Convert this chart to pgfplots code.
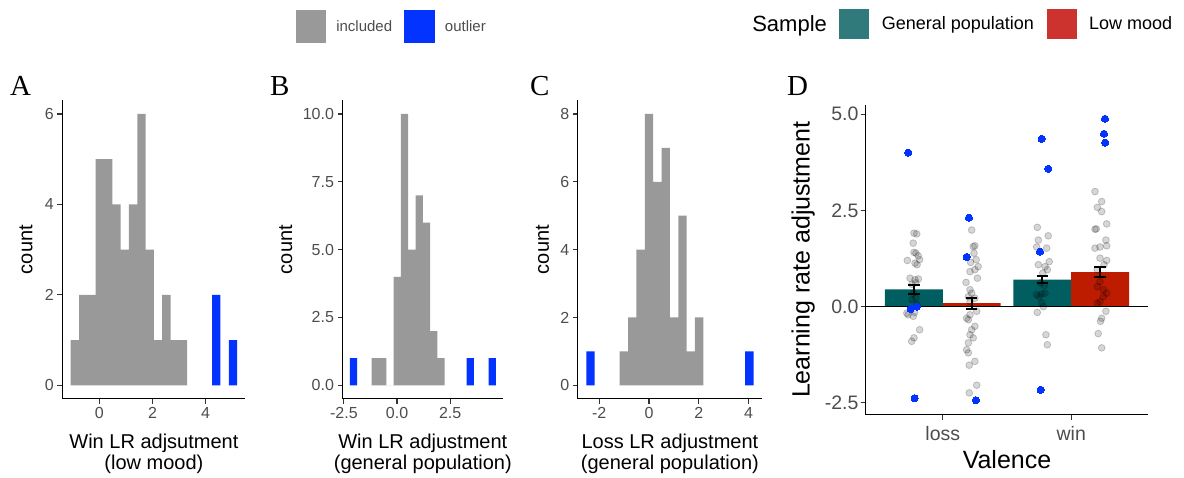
\documentclass[border=0pt]{standalone}
\usepackage{fontspec}
\setmainfont{Liberation Sans}
\newfontfamily\letterfont{Liberation Serif}
\usepackage{pgfplots}
\pgfplotsset{compat=1.18}

\definecolor{histgray}{RGB}{153,153,153}
\definecolor{outblue}{RGB}{3,51,255}
\definecolor{barteal}{RGB}{0,94,96}
\definecolor{barred}{RGB}{190,28,0}
\definecolor{legteal}{RGB}{48,122,124}
\definecolor{legred}{RGB}{204,50,46}
\definecolor{tickgray}{RGB}{77,77,77}
\definecolor{tickline}{RGB}{51,51,51}

\pgfplotsset{
  gg/.style={
    scale only axis,
    axis lines=left,
    axis line style={-, black, line width=1.1pt},
    tick align=outside,
    major tick length=5pt,
    major tick style={tickline, line width=1.1pt},
    tick label style={text=tickgray},
    label style={text=black},
    /pgf/number format/assume math mode=true,
    minor tick num=0,
  },
  ggsmall/.style={gg,
    height=298.5pt,
    tick label style={font=\fontsize{16}{16}\selectfont},
    xlabel style={font=\fontsize{20}{21}\selectfont, align=center, at={(axis description cs:0.5,-0.1159)}, anchor=north, inner sep=0pt},
    ylabel style={font=\fontsize{20}{20}\selectfont, anchor=center},
  },
  hist/.style={const plot, draw=none},
}

\begin{document}
\begin{tikzpicture}
\useasboundingbox (0pt,0pt) rectangle (1184pt,478pt);

% ---------------- Panel A ----------------
\begin{axis}[ggsmall, at={(62.4pt,79.1pt)}, anchor=south west,
  width=183.0pt,
  xmin=-1.391, xmax=5.495, ymin=-0.3, ymax=6.3,
  xtick={0,2,4}, xticklabels={0,2,4},
  ytick={0,2,4,6}, yticklabels={0,2,4,6},
  xlabel={Win LR adjsutment\\(low mood)},
  ylabel={count},
  ylabel style={at={(axis description cs:-0.199,0.5)}},
  legend style={at={(axis description cs:1.2751,1.2469)}, anchor=west,
    draw=none, fill=none, inner sep=0pt, outer sep=0pt, legend columns=-1,
    nodes={inner sep=0pt, text=tickgray, font=\fontsize{15}{15}\selectfont},
    /tikz/every odd column/.append style={column sep=10pt},
    /tikz/every even column/.append style={column sep=12.3pt}},
]
\addplot[hist, fill=histgray,
  legend image code/.code={\fill[histgray] (0pt,-16.5pt) rectangle (30.5pt,16.5pt);}]
  coordinates {(-1.078,0) (-1.078,1) (-0.765,2) (-0.452,2) (-0.139,5) (0.174,5) (0.487,4) (0.800,3) (1.113,4) (1.426,6) (1.739,3) (2.052,1) (2.365,2) (2.678,1) (2.991,1) (3.304,1) (3.304,0)};
\addlegendentry{included}
\addplot[hist, fill=outblue,
  legend image code/.code={\fill[outblue] (0pt,-16.5pt) rectangle (30.5pt,16.5pt);}]
  coordinates {(4.243,0) (4.243,2) (4.556,2) (4.556,0)};
\addlegendentry{outlier}
\addplot[hist, fill=outblue, forget plot]
  coordinates {(4.869,0) (4.869,1) (5.182,1) (5.182,0)};
\end{axis}

% ---------------- Panel B ----------------
\begin{axis}[ggsmall, at={(342.5pt,79.1pt)}, anchor=south west,
  width=160.6pt,
  xmin=-2.564, xmax=4.986, ymin=-0.5, ymax=10.5,
  xtick={-2.5,0,2.5}, xticklabels={-2.5,0.0,2.5},
  ytick={0,2.5,5,7.5,10}, yticklabels={0.0,2.5,5.0,7.5,10.0},
  xlabel={Win LR adjustment\\(general population)},
  ylabel={count},
  ylabel style={at={(axis description cs:-0.354,0.5)}},
]
\addplot[hist, fill=histgray]
  coordinates {(-1.191,0) (-1.191,1) (-0.848,1) (-0.505,0) (-0.162,4) (0.181,10) (0.525,5) (0.868,7) (1.211,6) (1.554,2) (1.897,1) (2.241,1) (2.241,0)};
\addplot[hist, fill=outblue]
  coordinates {(-2.221,0) (-2.221,1) (-1.877,1) (-1.877,0)};
\addplot[hist, fill=outblue]
  coordinates {(3.270,0) (3.270,1) (3.613,1) (3.613,0)};
\addplot[hist, fill=outblue]
  coordinates {(4.300,0) (4.300,1) (4.643,1) (4.643,0)};
\end{axis}

% ---------------- Panel C ----------------
\begin{axis}[ggsmall, at={(577.9pt,79.1pt)}, anchor=south west,
  width=184.0pt,
  xmin=-2.856, xmax=4.538, ymin=-0.4, ymax=8.4,
  xtick={-2,0,2,4}, xticklabels={-2,0,2,4},
  ytick={0,2,4,6,8}, yticklabels={0,2,4,6,8},
  xlabel={Loss LR adjustment\\(general population)},
  ylabel={count},
  ylabel style={at={(axis description cs:-0.192,0.5)}},
]
\addplot[hist, fill=histgray]
  coordinates {(-1.176,0) (-1.176,1) (-0.840,2) (-0.504,4) (-0.168,8) (0.168,6) (0.505,7) (0.841,2) (1.177,5) (1.513,1) (1.849,2) (2.185,2) (2.185,0)};
\addplot[hist, fill=outblue]
  coordinates {(-2.520,0) (-2.520,1) (-2.184,1) (-2.184,0)};
\addplot[hist, fill=outblue]
  coordinates {(3.866,0) (3.866,1) (4.202,1) (4.202,0)};
\end{axis}

% ---------------- Panel D ----------------
\begin{axis}[gg, at={(865.7pt,63.3pt)}, anchor=south west,
  width=282.6pt, height=310pt,
  xmin=0.4, xmax=2.6, ymin=-2.806, ymax=5.246,
  xtick={1,2}, xticklabels={loss,win},
  ytick={-2.5,0,2.5,5}, yticklabels={-2.5,0.0,2.5,5.0},
  tick label style={font=\fontsize{19.5}{19.5}\selectfont},
  yticklabel style={inner xsep=2pt},
  xticklabel style={yshift=-3pt},
  xlabel={Valence}, ylabel={Learning rate adjustment},
  xlabel style={font=\fontsize{25}{25}\selectfont, at={(axis description cs:0.5,-0.113)}, anchor=north, inner sep=0pt},
  ylabel style={font=\fontsize{25}{25}\selectfont, at={(axis description cs:-0.221,0.5)}, anchor=center},
  legend style={at={(axis description cs:-0.4455,1.2603)}, anchor=west,
    draw=none, fill=none, inner sep=0pt, outer sep=0pt, legend columns=-1,
    nodes={inner sep=0pt, text=black, font=\fontsize{18}{18}\selectfont},
    /tikz/every odd column/.append style={column sep=12.5pt},
    /tikz/every even column/.append style={column sep=12.5pt}},
]
\addlegendimage{empty legend}
\addlegendentry{\fontsize{22}{22}\selectfont Sample}
\addplot[ybar, bar width=0.45, bar shift=0pt, fill=barteal, draw=none,
  legend image code/.code={\fill[legteal] (0pt,-15pt) rectangle (30pt,15pt);}]
  coordinates {(0.775,0.45) (1.775,0.70)};
\addlegendentry{General population}
\addplot[ybar, bar width=0.45, bar shift=0pt, fill=barred, draw=none,
  legend image code/.code={\fill[legred] (0pt,-15pt) rectangle (30pt,15pt);}]
  coordinates {(1.225,0.09) (2.225,0.90)};
\addlegendentry{Low mood}
\addplot[forget plot, black, line width=1.1pt] coordinates {(0.4,0) (2.6,0)};
% included participants (jittered)
\addplot[forget plot, only marks, mark=*, mark size=3.4pt,
  mark options={fill=black, fill opacity=0.16, draw=black, draw opacity=0.2, line width=0.8pt}]
  coordinates {
  (0.776,1.91) (0.797,1.89) (0.770,1.65) (0.776,1.41) (0.791,1.39) (0.809,1.32) (0.724,1.20) (0.784,1.13) (0.800,1.09) (0.820,1.22) (0.745,0.74) (0.784,0.70) (0.810,0.72) (0.790,0.62) (0.760,0.58) (0.770,0.35) (0.790,0.22) (0.760,0.18) (0.800,0.05) (0.720,-0.17) (0.730,-0.21) (0.780,-0.15) (0.770,-0.25) (0.820,-0.60) (0.776,-0.81) (0.758,-0.90)
  (1.225,1.99) (1.237,1.56) (1.250,1.58) (1.243,1.39) (1.260,1.22) (1.217,1.15) (1.276,1.04) (1.250,0.96) (1.212,0.91) (1.270,0.74) (1.181,0.63) (1.212,0.44) (1.225,0.35) (1.199,0.26) (1.250,0.22) (1.212,0.13) (1.264,-0.12) (1.212,-0.21) (1.186,-0.30) (1.199,-0.34) (1.250,-0.51) (1.225,-0.60) (1.212,-0.73) (1.237,-0.81) (1.199,-0.94) (1.186,-1.12) (1.199,-1.20) (1.250,-1.42) (1.206,-1.52) (1.264,-2.04) (1.206,-2.24)
  (1.736,2.06) (1.821,1.84) (1.744,1.73) (1.809,1.52) (1.731,1.55) (1.829,1.17) (1.744,1.09) (1.796,1.04) (1.814,0.96) (1.778,0.87) (1.760,0.62) (1.790,0.55) (1.731,0.31) (1.770,0.33) (1.796,0.35) (1.750,0.26) (1.770,0.09) (1.783,0.00) (1.736,-0.15) (1.803,-0.73) (1.814,-0.99)
  (2.185,2.99) (2.237,2.73) (2.203,2.58) (2.237,2.47) (2.276,2.15) (2.185,2.01) (2.195,2.02) (2.270,1.73) (2.224,1.55) (2.185,1.52) (2.276,1.58) (2.224,1.26) (2.276,1.20) (2.255,1.09) (2.203,0.96) (2.224,0.65) (2.203,0.52) (2.276,0.35) (2.250,0.26) (2.224,0.13) (2.203,0.09) (2.250,0.44) (2.270,-0.12) (2.237,-0.30) (2.228,-0.38) (2.210,-0.70) (2.237,-1.07)
  };
% outliers
\addplot[forget plot, only marks, mark=*, mark size=3.6pt,
  mark options={fill=outblue, draw=outblue, line width=0pt}]
  coordinates {
  (0.731,4.00) (0.750,-0.06) (0.797,0.00) (0.781,-2.38)
  (1.204,2.31) (1.186,1.29) (1.258,-2.43)
  (1.770,4.36) (1.821,3.58) (1.757,1.43) (1.762,-2.16)
  (2.263,4.88) (2.255,4.49) (2.265,4.26)
  };
% mean +- SE
\addplot[forget plot, draw=none, mark=none,
  error bars/.cd, y dir=both, y explicit,
  error bar style={draw=black, line width=2pt},
  error mark options={rotate=90, draw=black, mark size=5.8pt, line width=2pt}]
  coordinates {(0.775,0.45) +- (0,0.12) (1.225,0.09) +- (0,0.14) (1.775,0.70) +- (0,0.09) (2.225,0.90) +- (0,0.12)};
\end{axis}

% panel letters
\node[anchor=base west, inner sep=0pt, font=\letterfont\fontsize{29}{29}\selectfont] at (10pt,382pt) {A};
\node[anchor=base west, inner sep=0pt, font=\letterfont\fontsize{29}{29}\selectfont] at (270pt,382pt) {B};
\node[anchor=base west, inner sep=0pt, font=\letterfont\fontsize{29}{29}\selectfont] at (530pt,382pt) {C};
\node[anchor=base west, inner sep=0pt, font=\letterfont\fontsize{29}{29}\selectfont] at (787pt,382pt) {D};
\end{tikzpicture}
\end{document}
